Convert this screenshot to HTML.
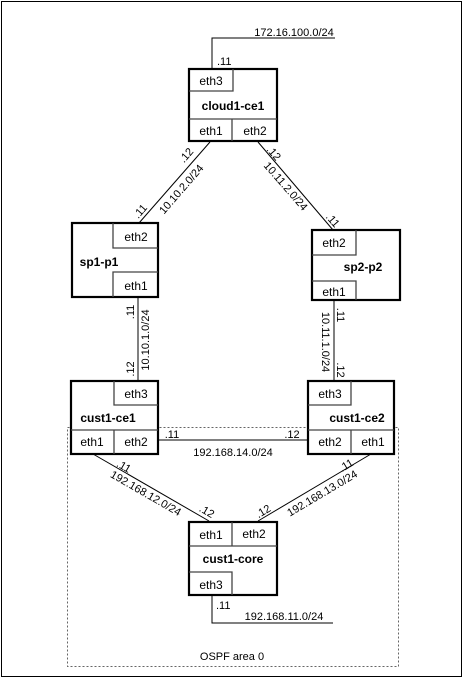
<!DOCTYPE html>
<html><head><meta charset="utf-8"><style>
html,body{margin:0;padding:0;background:#fff}
svg{display:block}
text{font-family:"Liberation Sans",Arial,sans-serif;font-size:11px;fill:#000}
.e{font-size:12px}
.b{font-weight:bold;font-size:12px}
.box{fill:#fff;stroke:#000;stroke-width:2.2}
.c{fill:none;stroke:#444;stroke-width:1.3}
.l{stroke:#000;stroke-width:1;fill:none}
</style></head><body>
<svg width="463" height="678" viewBox="0 0 463 678">
<rect x="1.5" y="1.5" width="460" height="675" fill="none" stroke="#000" stroke-width="1"/>
<rect x="67.5" y="427.5" width="331" height="239" fill="none" stroke="#666" stroke-width="1" stroke-dasharray="2,2"/>
<text x="232" y="660" text-anchor="middle">OSPF area 0</text>

<polyline class="l" points="212,69 212,38 335,38"/>
<line class="l" x1="210" y1="142" x2="139" y2="223"/>
<line class="l" x1="258" y1="142" x2="333" y2="230"/>
<line class="l" x1="138" y1="297" x2="138" y2="381"/>
<line class="l" x1="334" y1="300" x2="334" y2="381"/>
<line class="l" x1="158" y1="440" x2="308" y2="440"/>
<line class="l" x1="93" y1="454" x2="209" y2="521"/>
<line class="l" x1="371" y1="454" x2="258" y2="521"/>
<polyline class="l" points="212,595 212,623 333,623"/>

<text x="294" y="36" text-anchor="middle">172.16.100.0/24</text>
<text x="217" y="65">.11</text>
<text transform="translate(181,189) rotate(-49)" text-anchor="middle" dy="4">10.10.2.0/24</text>
<text transform="translate(186,155) rotate(-49)" text-anchor="middle" dy="4">.12</text>
<text transform="translate(140,211) rotate(-49)" text-anchor="middle" dy="4">.11</text>
<text transform="translate(286,186) rotate(49)" text-anchor="middle" dy="4">10.11.2.0/24</text>
<text transform="translate(274,153) rotate(49)" text-anchor="middle" dy="4">.12</text>
<text transform="translate(333,220) rotate(49)" text-anchor="middle" dy="4">.11</text>
<text transform="translate(145,340) rotate(-90)" text-anchor="middle" dy="4">10.10.1.0/24</text>
<text transform="translate(130,312) rotate(-90)" text-anchor="middle" dy="4">.11</text>
<text transform="translate(130,369) rotate(-90)" text-anchor="middle" dy="4">.12</text>
<text transform="translate(326,342) rotate(90)" text-anchor="middle" dy="4">10.11.1.0/24</text>
<text transform="translate(341,315) rotate(90)" text-anchor="middle" dy="4">.11</text>
<text transform="translate(341,370) rotate(90)" text-anchor="middle" dy="4">.12</text>
<text x="233" y="456" text-anchor="middle">192.168.14.0/24</text>
<text x="172" y="438" text-anchor="middle">.11</text>
<text x="292" y="438" text-anchor="middle">.12</text>
<text transform="translate(146,493) rotate(30)" text-anchor="middle" dy="4">192.168.12.0/24</text>
<text transform="translate(124,466) rotate(30)" text-anchor="middle" dy="4">.11</text>
<text transform="translate(207,511) rotate(30)" text-anchor="middle" dy="4">.12</text>
<text transform="translate(322,493) rotate(-30.7)" text-anchor="middle" dy="4">192.168.13.0/24</text>
<text transform="translate(346,465) rotate(-30.7)" text-anchor="middle" dy="4">.11</text>
<text transform="translate(263,511) rotate(-30.7)" text-anchor="middle" dy="4">.12</text>
<text x="216" y="609">.11</text>
<text x="284" y="620" text-anchor="middle">192.168.11.0/24</text>

<rect class="box" x="189" y="69" width="88" height="72"/>
<path class="c" d="M189,91 H233 V69 M189,119 H277 M232,119 V141"/>
<text class="e" x="211" y="85" text-anchor="middle">eth3</text>
<text class="b" x="233" y="110" text-anchor="middle">cloud1-ce1</text>
<text class="e" x="211" y="135" text-anchor="middle">eth1</text>
<text class="e" x="255" y="135" text-anchor="middle">eth2</text>

<rect class="box" x="72" y="223" width="86" height="74"/>
<path class="c" d="M113,223 V248 H158 M113,297 V272 H158"/>
<text class="e" x="136" y="241" text-anchor="middle">eth2</text>
<text class="b" x="99" y="266" text-anchor="middle">sp1-p1</text>
<text class="e" x="136" y="290" text-anchor="middle">eth1</text>

<rect class="box" x="312" y="230" width="88" height="70"/>
<path class="c" d="M312,255 H356 V230 M312,281 H356 V300"/>
<text class="e" x="334" y="247" text-anchor="middle">eth2</text>
<text class="b" x="363" y="271" text-anchor="middle">sp2-p2</text>
<text class="e" x="334" y="296" text-anchor="middle">eth1</text>

<rect class="box" x="71" y="381" width="87" height="73"/>
<path class="c" d="M114,381 V405 H158 M71,430 H158 M114,430 V454"/>
<text class="e" x="136" y="398" text-anchor="middle">eth3</text>
<text class="b" x="108" y="422" text-anchor="middle">cust1-ce1</text>
<text class="e" x="92" y="446" text-anchor="middle">eth1</text>
<text class="e" x="136" y="446" text-anchor="middle">eth2</text>

<rect class="box" x="308" y="381" width="86" height="73"/>
<path class="c" d="M308,405 H351 V381 M308,430 H394 M351,430 V454"/>
<text class="e" x="330" y="398" text-anchor="middle">eth3</text>
<text class="b" x="357" y="422" text-anchor="middle">cust1-ce2</text>
<text class="e" x="330" y="446" text-anchor="middle">eth2</text>
<text class="e" x="373" y="446" text-anchor="middle">eth1</text>

<rect class="box" x="189" y="522" width="88" height="73"/>
<path class="c" d="M189,546 H277 M232,522 V546 M189,572 H232 V595"/>
<text class="e" x="211" y="539" text-anchor="middle">eth1</text>
<text class="e" x="254" y="538" text-anchor="middle">eth2</text>
<text class="b" x="233" y="563" text-anchor="middle">cust1-core</text>
<text class="e" x="211" y="589" text-anchor="middle">eth3</text>
</svg>
</body></html>
